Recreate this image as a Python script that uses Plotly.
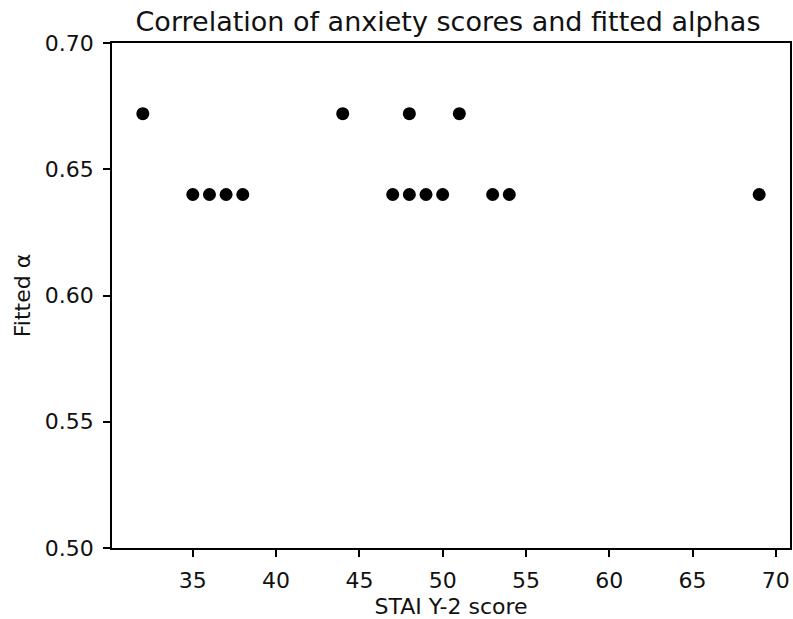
import plotly.graph_objects as go

stai_scores = [32, 35, 36, 37, 38, 44, 47, 48, 48, 49, 50, 51, 53, 54, 69]
fitted_alpha = [0.672, 0.640, 0.640, 0.640, 0.640, 0.672, 0.640, 0.640, 0.672,
                0.640, 0.640, 0.672, 0.640, 0.640, 0.640]
x_ticks = [35, 40, 45, 50, 55, 60, 65, 70]
y_ticks = [0.50, 0.55, 0.60, 0.65, 0.70]

FONT = "DejaVu Sans"
TICK_SIZE = 22

fig = go.Figure(go.Scatter(
    x=stai_scores, y=fitted_alpha, mode="markers",
    marker=dict(color="black", size=13),
))

axis_common = dict(
    showline=True, linecolor="black", linewidth=1.5, mirror=True,
    ticks="outside", ticklen=7, tickcolor="black", tickwidth=1.5,
    showgrid=False, zeroline=False, ticklabelstandoff=5,
    tickfont=dict(family=FONT, size=TICK_SIZE, color="#111111"),
)

fig.update_layout(
    width=793, height=619,
    margin=dict(l=112, r=1, t=43, b=70),
    paper_bgcolor="white", plot_bgcolor="white",
    showlegend=False,
    title=dict(text="Correlation of anxiety scores and fitted alphas",
               font=dict(family=FONT, size=27, color="#111111"),
               x=448 / 793, xanchor="center",
               y=1 - 22 / 619, yanchor="middle", yref="container"),
    xaxis=dict(range=[30.15, 70.85], tickvals=x_ticks,
               title=dict(text="STAI Y-2 score", standoff=9,
                          font=dict(family=FONT, size=TICK_SIZE, color="#111111")),
               **axis_common),
    yaxis=dict(range=[0.50, 0.70], tickvals=y_ticks, tickformat=".2f",
               title=dict(text="Fitted α", standoff=8,
                          font=dict(family=FONT, size=TICK_SIZE, color="#111111")),
               **axis_common),
)

fig.write_html("out.html",
               config={"displayModeBar": False},
               post_script="document.body.style.margin='0';document.body.style.overflow='hidden';")
